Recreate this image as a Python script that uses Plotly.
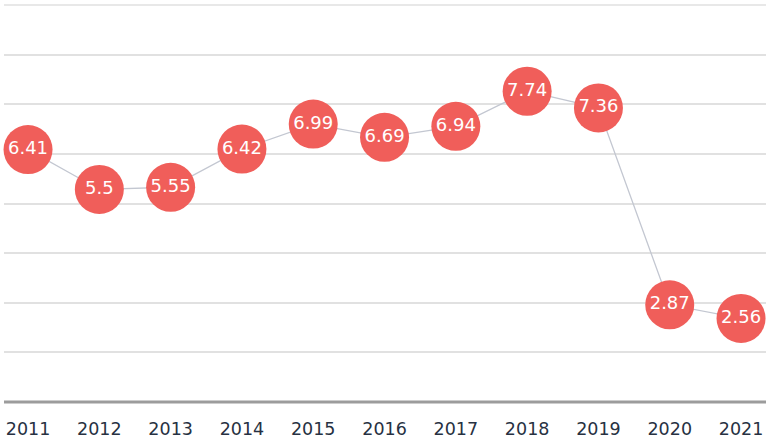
import plotly.graph_objects as go

years = ["2011", "2012", "2013", "2014", "2015", "2016", "2017", "2018", "2019", "2020", "2021"]
values = [6.41, 5.5, 5.55, 6.42, 6.99, 6.69, 6.94, 7.74, 7.36, 2.87, 2.56]
labels = [f"{v:g}" for v in values]

# layout constants
Y_BOTTOM = 0.653
GRID_STEP = 1.1317
Y_TOP = Y_BOTTOM + 8 * GRID_STEP

fig = go.Figure()
fig.add_trace(go.Scatter(
    x=years, y=values,
    mode="lines+markers+text",
    line=dict(color="#c3c7d1", width=1.3),
    marker=dict(size=49, color="#f05e5a", line=dict(width=0)),
    text=labels,
    textposition="middle center",
    textfont=dict(family="DejaVu Sans", size=18, color="white"),
    hoverinfo="skip",
    cliponaxis=False,
))

fig.update_layout(
    width=769, height=442,
    margin=dict(l=4, r=3, t=5, b=40),
    paper_bgcolor="white", plot_bgcolor="white",
    showlegend=False,
    xaxis=dict(
        type="category",
        range=[-0.337, 10.35],
        showgrid=False,
        showline=False,
        zeroline=False,
        ticks="",
        ticklabelstandoff=14,
        tickfont=dict(family="DejaVu Sans", size=17.5, color="#273142"),
    ),
    yaxis=dict(
        range=[Y_BOTTOM, Y_TOP],
        tick0=Y_BOTTOM, dtick=GRID_STEP,
        showgrid=True, gridcolor="#e1e1e1", gridwidth=1.5,
        showticklabels=False,
        zeroline=False,
        showline=False,
        ticks="",
    ),
    shapes=[
        dict(type="line", xref="paper", yref="paper",
             x0=0, x1=1, y0=1, y1=1, layer="below",
             line=dict(color="#e1e1e1", width=1.5)),
        dict(type="line", xref="paper", yref="paper",
             x0=0, x1=1, y0=0, y1=0,
             line=dict(color="#9c9c9c", width=3)),
    ],
)

fig.write_html("out.html")
